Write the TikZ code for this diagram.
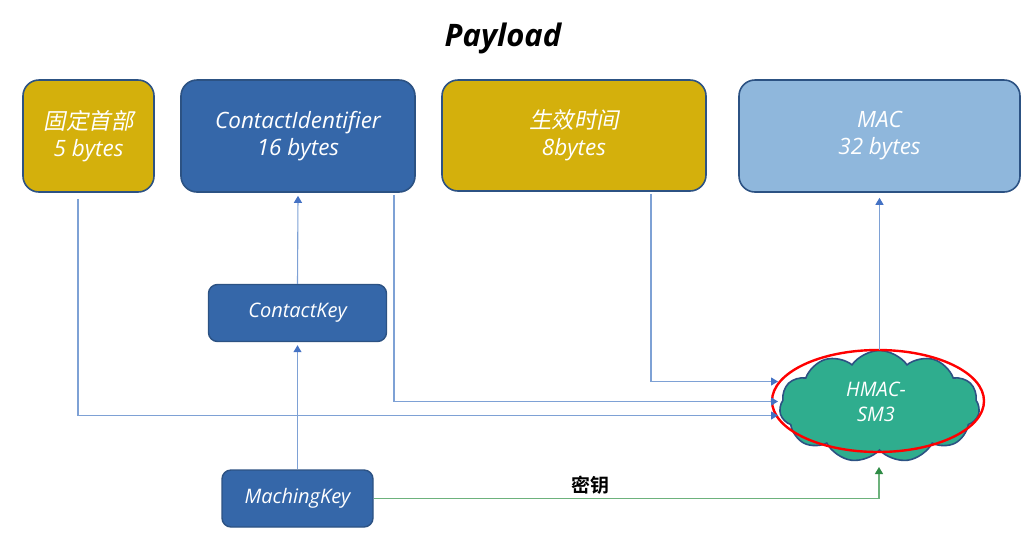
\documentclass[tikz,border=0pt]{standalone}
\usepackage{fontspec}
\setmainfont{Open Sans}
\newfontfamily\cjk[FakeSlant=0.2]{Noto Sans CJK SC}
\newfontfamily\cjkb{Noto Sans CJK SC Bold}
\usetikzlibrary{shapes.symbols,shapes.geometric,arrows.meta}
\definecolor{gold}{HTML}{D4B00C}
\definecolor{bordc}{HTML}{2C5283}
\definecolor{bluef}{HTML}{3567A9}
\definecolor{lbluef}{HTML}{8FB7DC}
\definecolor{tealf}{HTML}{2FAD8E}
\definecolor{connc}{HTML}{7EA1D5}
\definecolor{arrc}{HTML}{4472C4}
\definecolor{greenl}{HTML}{6DB27C}
\definecolor{greena}{HTML}{2E8B45}
\begin{document}
\begin{tikzpicture}[x=1pt,y=-1pt,
  fld/.style={draw=bordc,line width=1.6pt,rounded corners=16pt,text=white,align=center,
     font=\fontsize{22.5}{27}\selectfont\itshape,inner sep=0pt},
  keybox/.style={draw=bordc,line width=1.4pt,rounded corners=9pt,fill=bluef,text=white,
     font=\fontsize{20}{24}\selectfont\itshape,inner sep=0pt},
  conn/.style={draw=connc,line width=1.1pt},
  arr/.style={-{Triangle[width=8pt,length=7pt,color=arrc]}},
  garr/.style={draw=greenl,line width=1.3pt,-{Triangle[width=8pt,length=7pt,color=greena]}}]
\useasboundingbox (0,0) rectangle (1035,547);
\node[font=\fontsize{31}{35}\selectfont\bfseries\itshape] (title) at (503,38) {Payload};
\node[fld,fill=gold,minimum width=131pt,minimum height=112pt] (b1) at (88.5,136) {{\cjk 固定首部}\\5 bytes};
\node[fld,fill=bluef,minimum width=234pt,minimum height=112pt] (b2) at (298,136) {ContactIdentifier\\16 bytes};
\node[fld,fill=gold,minimum width=264pt,minimum height=111pt] (b3) at (574,135.5) {{\cjk 生效时间}\\8bytes};
\node[fld,fill=lbluef,minimum width=281pt,minimum height=112pt] (b4) at (879.5,136) {MAC\\32 bytes};
\node[keybox,minimum width=178pt,minimum height=57pt] (ck) at (297.5,313) {ContactKey};
\node[keybox,minimum width=151pt,minimum height=57pt] (mk) at (297.5,498.5) {MachingKey};
\node[cloud,cloud puffs=11,cloud puff arc=110,aspect=1.8,draw=bordc,line width=1.6pt,fill=tealf,
   minimum width=200pt,minimum height=112pt,inner sep=0pt] (hm) at (879.5,406.5) {};
\draw[red,line width=2.4pt] (878,401) ellipse [x radius=106, y radius=51];
\node[text=white,align=center,font=\fontsize{20}{25}\selectfont\itshape] (hmt) at (876,402) {HMAC-\\SM3};
\coordinate (in1) at (778,381.5);
\coordinate (in2) at (778,401.5);
\coordinate (in3) at (778,415.5);
\coordinate (kin) at (879,467);
\draw[conn,arr] ([shift={(-10.5,6)}]b1.south) |- (in3);
\draw[conn,arr] ([shift={(96,2)}]b2.south) |- (in2);
\draw[conn,arr] ([shift={(77,2)}]b3.south) |- (in1);
\draw[conn,arr] (ck.north) -- ([yshift=-3pt]b2.south);
\draw[conn,arr] (mk.north) -- ([yshift=-3pt]ck.south);
\draw[conn,arr] (hm.north -| b4.south) -- ([yshift=-5pt]b4.south);
\draw[garr] (mk.east) -| (kin);
\node[font=\fontsize{19}{21}\selectfont\cjkb] (key) at (590,485) {密钥};
\end{tikzpicture}
\end{document}
